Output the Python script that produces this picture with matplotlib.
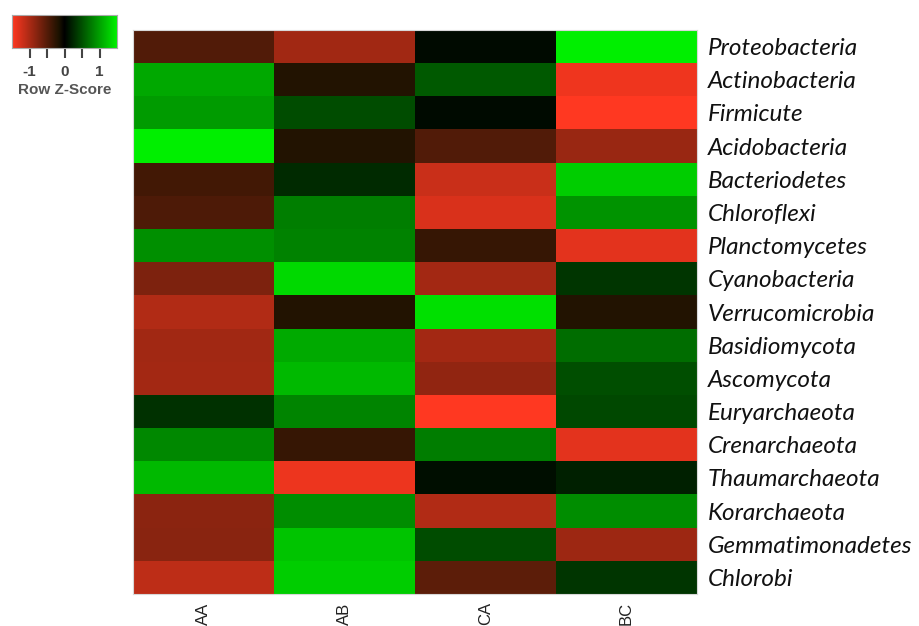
import numpy as np
import matplotlib
matplotlib.use("Agg")
import matplotlib.pyplot as plt
from matplotlib.colors import LinearSegmentedColormap

phyla = ['Proteobacteria', 'Actinobacteria', 'Firmicute', 'Acidobacteria',
         'Bacteriodetes', 'Chloroflexi', 'Planctomycetes', 'Cyanobacteria',
         'Verrucomicrobia', 'Basidiomycota', 'Ascomycota', 'Euryarchaeota',
         'Crenarchaeota', 'Thaumarchaeota', 'Korarchaeota', 'Gemmatimonadetes',
         'Chlorobi']
samples = ['AA', 'AB', 'CA', 'BC']

# row z-scores, one list per sample
z_AA = [-0.47, 1.05, 0.97, 1.49, -0.39, -0.45, 0.90, -0.73, -1.04,
        -0.94, -0.96, 0.31, 0.85, 1.16, -0.82, -0.80, -1.11]
z_AB = [-0.94, -0.20, 0.47, -0.20, 0.26, 0.79, 0.81, 1.35, -0.20,
        1.06, 1.16, 0.83, -0.32, -1.39, 0.88, 1.23, 1.28]
z_CA = [0.07, 0.56, 0.07, -0.47, -1.18, -1.27, -0.32, -0.96, 1.40,
        -0.96, -0.85, -1.50, 0.78, 0.09, -1.04, 0.47, -0.54]
z_BC = [1.49, -1.40, -1.50, -0.90, 1.28, 0.92, -1.33, 0.33, -0.20,
        0.69, 0.49, 0.45, -1.33, 0.20, 0.88, -0.92, 0.33]

data = np.array([z_AA, z_AB, z_CA, z_BC]).T

redgreen = LinearSegmentedColormap.from_list(
    'redgreen', [(0.0, (1.0, 0.22, 0.13)), (0.45, (0.10, 0.07, 0.0)),
                 (0.5, (0, 0, 0)), (1.0, (0, 0.94, 0))])

fig = plt.figure(figsize=(9.19, 6.26), dpi=100)

ax = fig.add_axes([133 / 919, 1 - 594 / 626, 564 / 919, 564 / 626])
ax.imshow(data, cmap=redgreen, vmin=-1.5, vmax=1.5, aspect='auto',
          interpolation='nearest')
ax.set_yticks(range(len(phyla)))
ax.set_yticklabels(phyla, fontfamily='Lato', fontstyle='italic', fontsize=17.5,
                   color='#111111')
ax.yaxis.tick_right()
ax.set_xticks(range(len(samples)))
ax.set_xticklabels(samples, rotation=90, fontfamily='Liberation Sans',
                   fontsize=12, color='#222222')
ax.tick_params(axis='both', length=0, pad=6)
ax.tick_params(axis='y', pad=8)
for s in ax.spines.values():
    s.set_color('#d8d8d8')
    s.set_linewidth(0.8)

# colour key
kax = fig.add_axes([12 / 919, 1 - 48 / 626, 105 / 919, 33 / 626])
grad = np.linspace(-1.5, 1.5, 256).reshape(1, -1)
kax.imshow(grad, cmap=redgreen, vmin=-1.5, vmax=1.5, aspect='auto',
           extent=[-1.5, 1.5, 0, 1])
kax.set_xlim(-1.5, 1.5)
kax.set_yticks([])
kax.set_xticks([-1, -0.5, 0, 0.5, 1])
kax.set_xticklabels(['-1', '', '0', '', '1'], fontfamily='Liberation Sans',
                    fontsize=11, fontweight='bold', color='#444444')
kax.tick_params(axis='x', length=7, width=1.5, color='#444444', pad=5)
for s in kax.spines.values():
    s.set_color('#aaaaaa')
kax.set_xlabel('Row Z-Score', fontfamily='Liberation Sans', fontsize=11,
               fontweight='bold', color='#555555', labelpad=3)

fig.savefig('out.png', dpi=100)
